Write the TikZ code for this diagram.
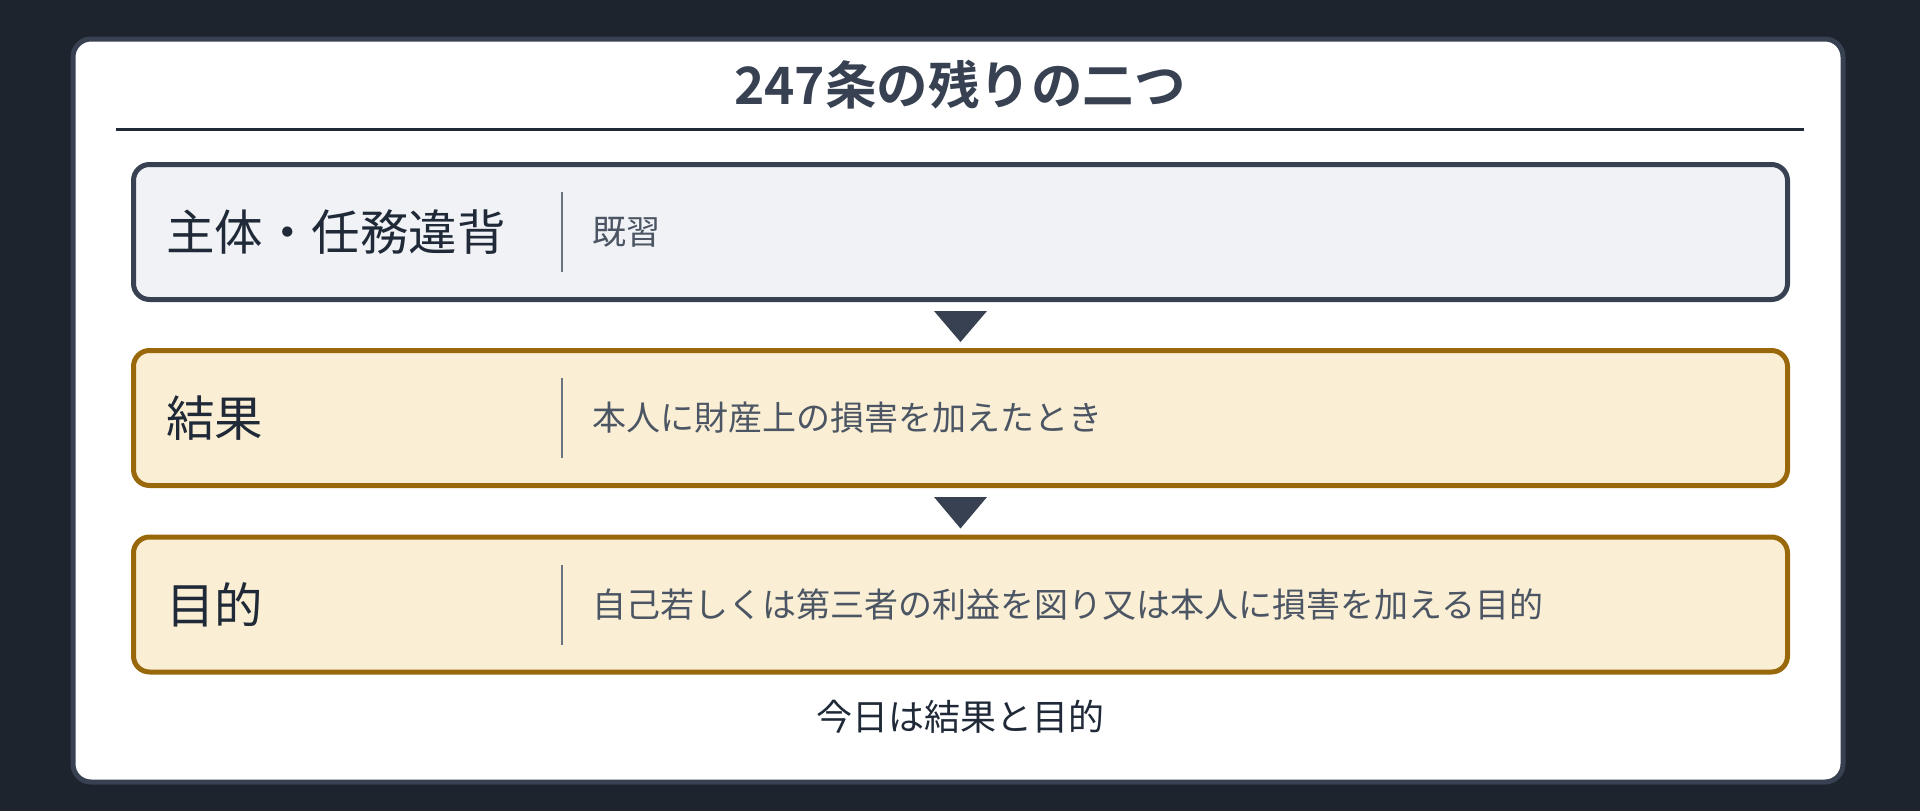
\documentclass[tikz,border=0pt]{standalone}
\usepackage{fontspec}
\setmainfont{Noto Sans CJK JP}
\newfontfamily\jp{Noto Sans CJK JP}
\newfontfamily\jpbold{Noto Sans CJK JP Bold}
\usetikzlibrary{positioning}
\definecolor{bgdark}{RGB}{30,36,46}
\definecolor{slate}{RGB}{55,65,81}
\definecolor{ink}{RGB}{31,41,55}
\definecolor{greytext}{RGB}{75,85,99}
\definecolor{sepgrey}{RGB}{107,114,128}
\definecolor{greyfill}{RGB}{240,242,245}
\definecolor{creamfill}{RGB}{250,239,213}
\definecolor{amberline}{RGB}{153,104,10}
\tikzset{
  card/.style={draw=slate, line width=5pt, fill=white, rounded corners=18pt},
  stagebox/.style={line width=5pt, rounded corners=16pt, minimum width=1654pt, minimum height=135pt, inner sep=0pt},
  greybox/.style={stagebox, draw=slate, fill=greyfill},
  creambox/.style={stagebox, draw=amberline, fill=creamfill},
  stagetitle/.style={anchor=west, inner sep=0pt, text=ink, font=\jp\fontsize{48.5pt}{56pt}\selectfont},
  stagedetail/.style={anchor=west, inner sep=0pt, text=greytext, font=\jp\fontsize{34pt}{40pt}\selectfont},
  sepline/.style={draw=sepgrey, line width=2.5pt},
  flowtri/.style={fill=slate},
}
\begin{document}
\begin{tikzpicture}[x=1pt,y=-1pt]
\fill[bgdark] (0,0) rectangle (1920,811);
\useasboundingbox (0,0) rectangle (1920,811);
\path[card] (73,39) rectangle (1843,782);
% heading
\node[inner sep=0pt, text=slate, font=\jpbold\fontsize{51.5pt}{60pt}\selectfont] (head) at (960,85) {247条の残りの二つ};
\coordinate (ruleL) at (116,129);
\coordinate (ruleR) at (1804,129);
\draw[ink, line width=3pt] (ruleL) -- (ruleR);
% boxes
\node[greybox] (b1) at (960.5,232) {};
\node[creambox] (b2) at (960.5,418) {};
\node[creambox] (b3) at (960.5,604.5) {};
% titles
\node[stagetitle] (t1) at (166,232) {主体・任務違背};
\node[stagetitle] (t2) at (166,418) {結果};
\node[stagetitle] (t3) at (166,604.5) {目的};
% separators
\foreach \n/\y in {1/232,2/418,3/604.5}{
  \coordinate (s\n a) at (562,\y-40);
  \coordinate (s\n b) at (562,\y+40);
  \draw[sepline] (s\n a) -- (s\n b);
}
% details
\node[stagedetail] (d1) at (592,232) {既習};
\node[stagedetail] (d2) at (592,418) {本人に財産上の損害を加えたとき};
\node[stagedetail] (d3) at (592,604.5) {自己若しくは第三者の利益を図り又は本人に損害を加える目的};
% flow triangles
\fill[flowtri] ([xshift=-26.5pt,yshift=-9pt]b1.south) -- ([xshift=26.5pt,yshift=-9pt]b1.south) -- ([yshift=6pt]b2.north) -- cycle;
\fill[flowtri] ([xshift=-26.5pt,yshift=-9pt]b2.south) -- ([xshift=26.5pt,yshift=-9pt]b2.south) -- ([yshift=6pt]b3.north) -- cycle;
% footer
\node[inner sep=0pt, text=ink, font=\jp\fontsize{36pt}{42pt}\selectfont] (foot) at (960,717) {今日は結果と目的};
\end{tikzpicture}
\end{document}
